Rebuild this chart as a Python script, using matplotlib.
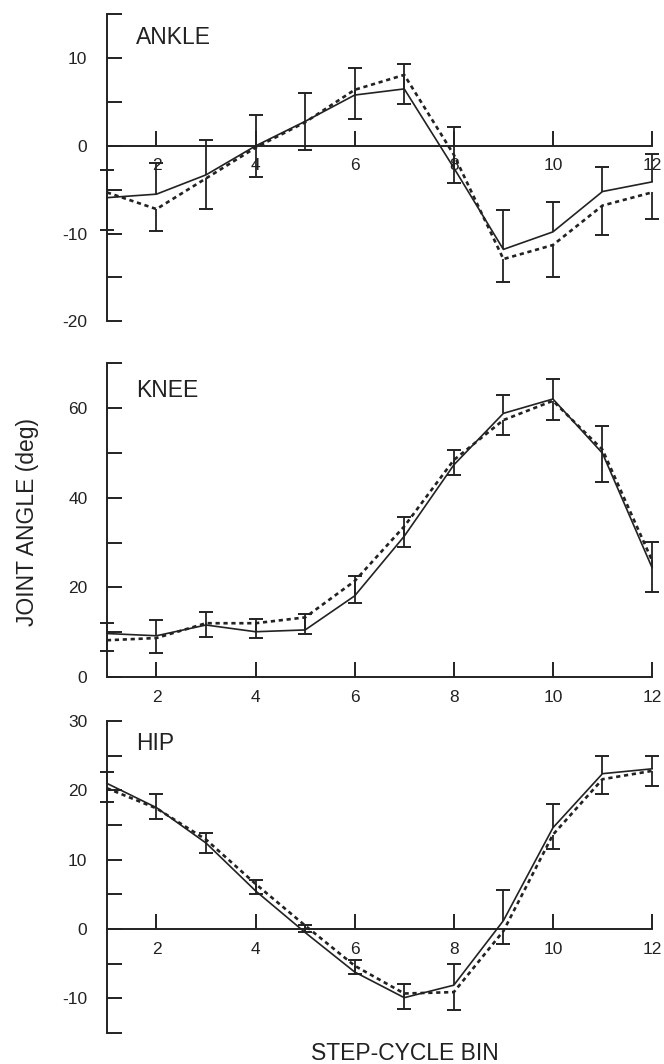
import numpy as np
import matplotlib.pyplot as plt

plt.rcParams['font.family'] = ['Liberation Sans', 'DejaVu Sans']

# step-cycle bins
bins = np.arange(1, 13)
xticks = [2, 4, 6, 8, 10, 12]

# ANKLE: solid / dashed means, solid error bars go up, dashed go down
ankle_solid = [-5.9, -5.5, -3.3, 0.0, 2.8, 5.8, 6.5, -2.5, -11.8, -9.8, -5.2, -4.1]
ankle_solid_sd = [3.1, 3.5, 4.0, 3.5, 3.2, 3.1, 2.8, 4.7, 4.5, 3.4, 2.8, 3.2]
ankle_dashed = [-5.3, -7.2, -3.7, -0.2, 2.7, 6.4, 8.1, -1.0, -12.9, -11.3, -6.8, -5.3]
ankle_dashed_sd = [4.3, 2.5, 3.5, 3.3, 3.2, 3.3, 3.3, 3.2, 2.6, 3.6, 3.4, 3.0]

# KNEE
knee_solid = [9.7, 9.2, 11.6, 10.1, 10.5, 18.1, 31.4, 47.3, 58.8, 62.0, 49.9, 24.4]
knee_solid_sd = [2.4, 3.5, 2.9, 2.8, 3.6, 4.4, 4.3, 3.4, 4.1, 4.4, 6.1, 5.7]
knee_dashed = [8.2, 8.7, 12.0, 12.0, 13.3, 21.4, 33.6, 48.4, 57.3, 61.6, 50.7, 26.0]
knee_dashed_sd = [2.3, 3.4, 3.0, 3.3, 3.6, 5.0, 4.6, 3.4, 3.4, 4.3, 7.3, 7.0]

# HIP
hip_solid = [21.0, 17.5, 12.4, 5.5, -0.5, -6.2, -9.9, -8.1, 1.2, 14.6, 22.4, 23.1]
hip_solid_sd = [1.6, 2.0, 1.5, 1.6, 1.1, 1.7, 2.0, 3.0, 4.4, 3.4, 2.6, 1.9]
hip_dashed = [20.3, 17.4, 12.9, 6.5, 0.5, -5.3, -9.3, -9.1, -0.3, 13.6, 21.6, 22.8]
hip_dashed_sd = [2.0, 1.5, 2.0, 1.4, 1.0, 1.2, 2.3, 2.6, 1.9, 2.0, 2.2, 2.2]

INK = '#222222'

fig = plt.figure(figsize=(6.64, 10.64), dpi=100)


def draw_panel(rect, name, solid, solid_sd, dashed, dashed_sd,
               ylim, yticks, ylabels, name_y, zero_axis):
    ax = fig.add_axes(rect)
    solid = np.array(solid)
    dashed = np.array(dashed)
    up = solid + np.array(solid_sd)
    down = dashed - np.array(dashed_sd)

    ax.plot(bins, solid, color=INK, lw=1.2, clip_on=False)
    ax.plot(bins, dashed, color=INK, lw=1.9, linestyle=(0, (1.6, 1.4)),
            clip_on=False)
    # error bars: up from solid, down from dashed
    ax.vlines(bins, solid, up, color=INK, lw=1.3, clip_on=False)
    ax.vlines(bins, dashed, down, color=INK, lw=1.3, clip_on=False)
    ax.plot(bins, up, ls='none', marker='_', ms=10, mew=1.4,
            color=INK, clip_on=False)
    ax.plot(bins, down, ls='none', marker='_', ms=10, mew=1.4,
            color=INK, clip_on=False)

    ax.set_xlim(1, 12)
    ax.set_ylim(*ylim)
    ax.spines['top'].set_visible(False)
    ax.spines['right'].set_visible(False)
    for sp in ('left', 'bottom'):
        ax.spines[sp].set_linewidth(1.4)
        ax.spines[sp].set_color(INK)
    if zero_axis:
        ax.spines['bottom'].set_position(('data', 0))
    ax.set_xticks(xticks)
    ax.set_xticklabels([str(t) for t in xticks])
    ax.set_yticks(yticks)
    ax.set_yticklabels(ylabels)
    ax.tick_params(axis='both', direction='in', length=11, width=1.4,
                   color=INK, labelsize=12.5, labelcolor=INK)
    ax.tick_params(axis='y', pad=14)
    ax.tick_params(axis='x', pad=9)
    ax.patch.set_visible(False)
    ax.text(1.58, name_y, name, fontsize=16.5, va='center', ha='left',
            color=INK)
    return ax


draw_panel([0.161, 0.698, 0.821, 0.2885], 'ANKLE',
           ankle_solid, ankle_solid_sd, ankle_dashed, ankle_dashed_sd,
           (-20, 15), [-20, -15, -10, -5, 0, 5, 10, 15],
           ['-20', '', '-10', '', '0', '', '10', ''], 12.4, True)

draw_panel([0.161, 0.3637, 0.821, 0.295], 'KNEE',
           knee_solid, knee_solid_sd, knee_dashed, knee_dashed_sd,
           (0, 70), [0, 10, 20, 30, 40, 50, 60, 70],
           ['0', '', '20', '', '40', '', '60', ''], 64, False)

draw_panel([0.161, 0.0291, 0.821, 0.2933], 'HIP',
           hip_solid, hip_solid_sd, hip_dashed, hip_dashed_sd,
           (-15, 30), [-15, -10, -5, 0, 5, 10, 15, 20, 25, 30],
           ['', '-10', '', '0', '', '10', '', '20', '', '30'], 26.8, True)

fig.text(27.5 / 664, 1 - 522 / 1064, 'JOINT ANGLE (deg)', rotation=90,
         ha='center', va='center', fontsize=16.5, color=INK)
fig.text(405 / 664, 1 - 1053 / 1064, 'STEP-CYCLE BIN',
         ha='center', va='center', fontsize=16.5, color=INK)

fig.savefig('out.png', dpi=100)
